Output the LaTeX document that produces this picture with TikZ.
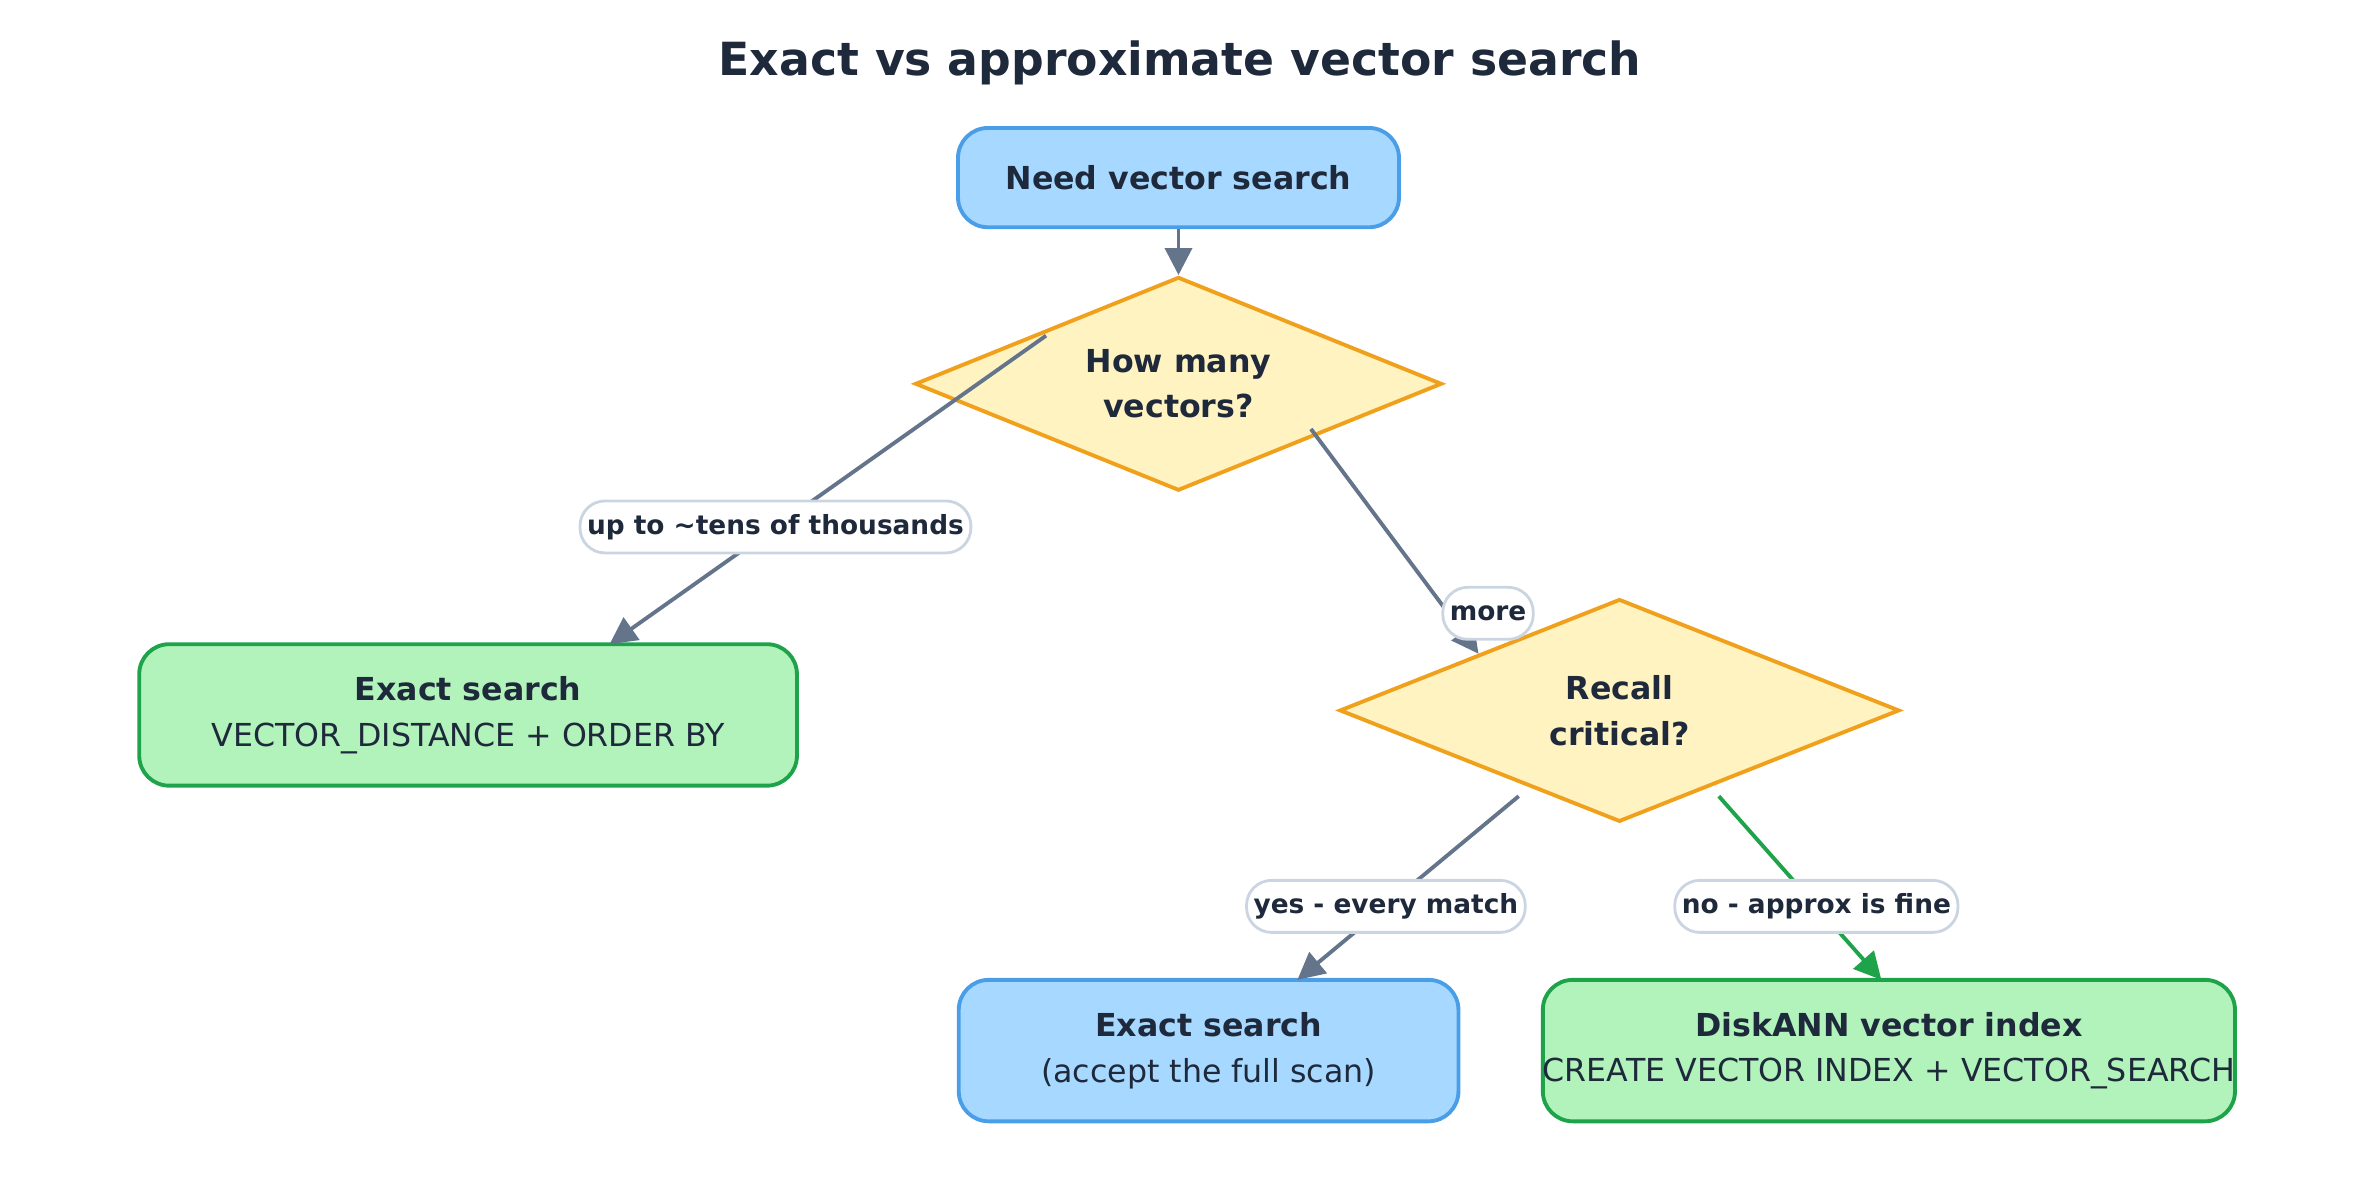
\documentclass[tikz,border=0pt]{standalone}
\usepackage{fontspec}
\setmainfont{DejaVu Sans}
\usetikzlibrary{positioning,shapes.geometric,arrows.meta}
\definecolor{ink}{HTML}{1E293B}
\definecolor{edgegray}{HTML}{64748B}
\definecolor{blueFill}{HTML}{A7D8FF}
\definecolor{blueLine}{HTML}{4A9EE8}
\definecolor{yelFill}{HTML}{FFF3C2}
\definecolor{yelLine}{HTML}{F0A01A}
\definecolor{grnFill}{HTML}{B2F2BB}
\definecolor{grnLine}{HTML}{1FA34A}
\definecolor{pillLine}{HTML}{CBD5E1}
\tikzstyle{box}=[rounded corners=0.3cm, line width=1.1pt, align=center, text=ink, font=\fontsize{9}{13}\selectfont, inner sep=0pt]
\tikzstyle{startbox}=[box, fill=blueFill, draw=blueLine]
\tikzstyle{okbox}=[box, fill=grnFill, draw=grnLine]
\tikzstyle{decision}=[diamond, fill=yelFill, draw=yelLine, line width=1.1pt, aspect=2.46, inner sep=0pt, align=center, text=ink, font=\bfseries\fontsize{9}{13}\selectfont]
\tikzstyle{flow}=[-{Triangle[length=0.27cm,width=0.27cm]}, draw=edgegray, line width=1.1pt]
\tikzstyle{pill}=[fill=white, draw=pillLine, line width=0.8pt, rounded corners=0.25cm, text=ink, font=\bfseries\fontsize{7.5}{9}\selectfont, minimum height=0.52cm, inner xsep=2pt]

\begin{document}
\begin{tikzpicture}[x=0.01505cm, y=-0.01505cm]
	\useasboundingbox (0,0) rectangle (1568,797);
	\node [text=ink, font=\bfseries\fontsize{13}{16}\selectfont] (title) at (784,42) {Exact vs approximate vector search};
	% nodes
	\node [startbox, minimum width=293*0.01505cm, minimum height=66*0.01505cm] (need) at (783,118) {\bfseries Need vector search};
	\node [decision, minimum width=350*0.01505cm, minimum height=142*0.01505cm] (howmany) at (783,255) {How many\\vectors?};
	\node [okbox, minimum width=437*0.01505cm, minimum height=94*0.01505cm] (exactA) at (311,475) {\textbf{Exact search}\\VECTOR\_DISTANCE + ORDER BY};
	\node [decision, minimum width=372*0.01505cm, minimum height=148*0.01505cm] (recall) at (1076,472) {Recall\\critical?};
	\node [startbox, minimum width=332*0.01505cm, minimum height=94*0.01505cm] (exactB) at (803,698) {\textbf{Exact search}\\(accept the full scan)};
	\node [okbox, minimum width=451*0.01505cm, minimum height=94*0.01505cm] (diskann) at (1255,698) {\textbf{DiskANN vector index}\\CREATE VECTOR INDEX + VECTOR\_SEARCH};
	% free ends inside the diamonds
	\coordinate (howmanyL) at (695,223);
	\coordinate (howmanyR) at (871,285);
	\coordinate (recallL) at (1009,529);
	\coordinate (recallR) at (1142,529);
	% edges
	\draw [flow] (need) -- (howmany.north);
	\draw [flow] (howmanyL) -- (405,428) node [pill, pos=0.62] {up to \textasciitilde tens of thousands};
	\draw [flow] (howmanyR) -- (recall.north west) node [pill, pos=0.82, right=-2pt] {more};
	\draw [flow] (recallL) -- (862,651) node [pill, pos=0.6] {yes - every match};
	\draw [flow, draw=grnLine, -{Triangle[length=0.27cm,width=0.27cm,fill=grnLine]}] (recallR) -- (1250,651) node [pill, pos=0.6] {no - approx is fine};
\end{tikzpicture}
\end{document}
